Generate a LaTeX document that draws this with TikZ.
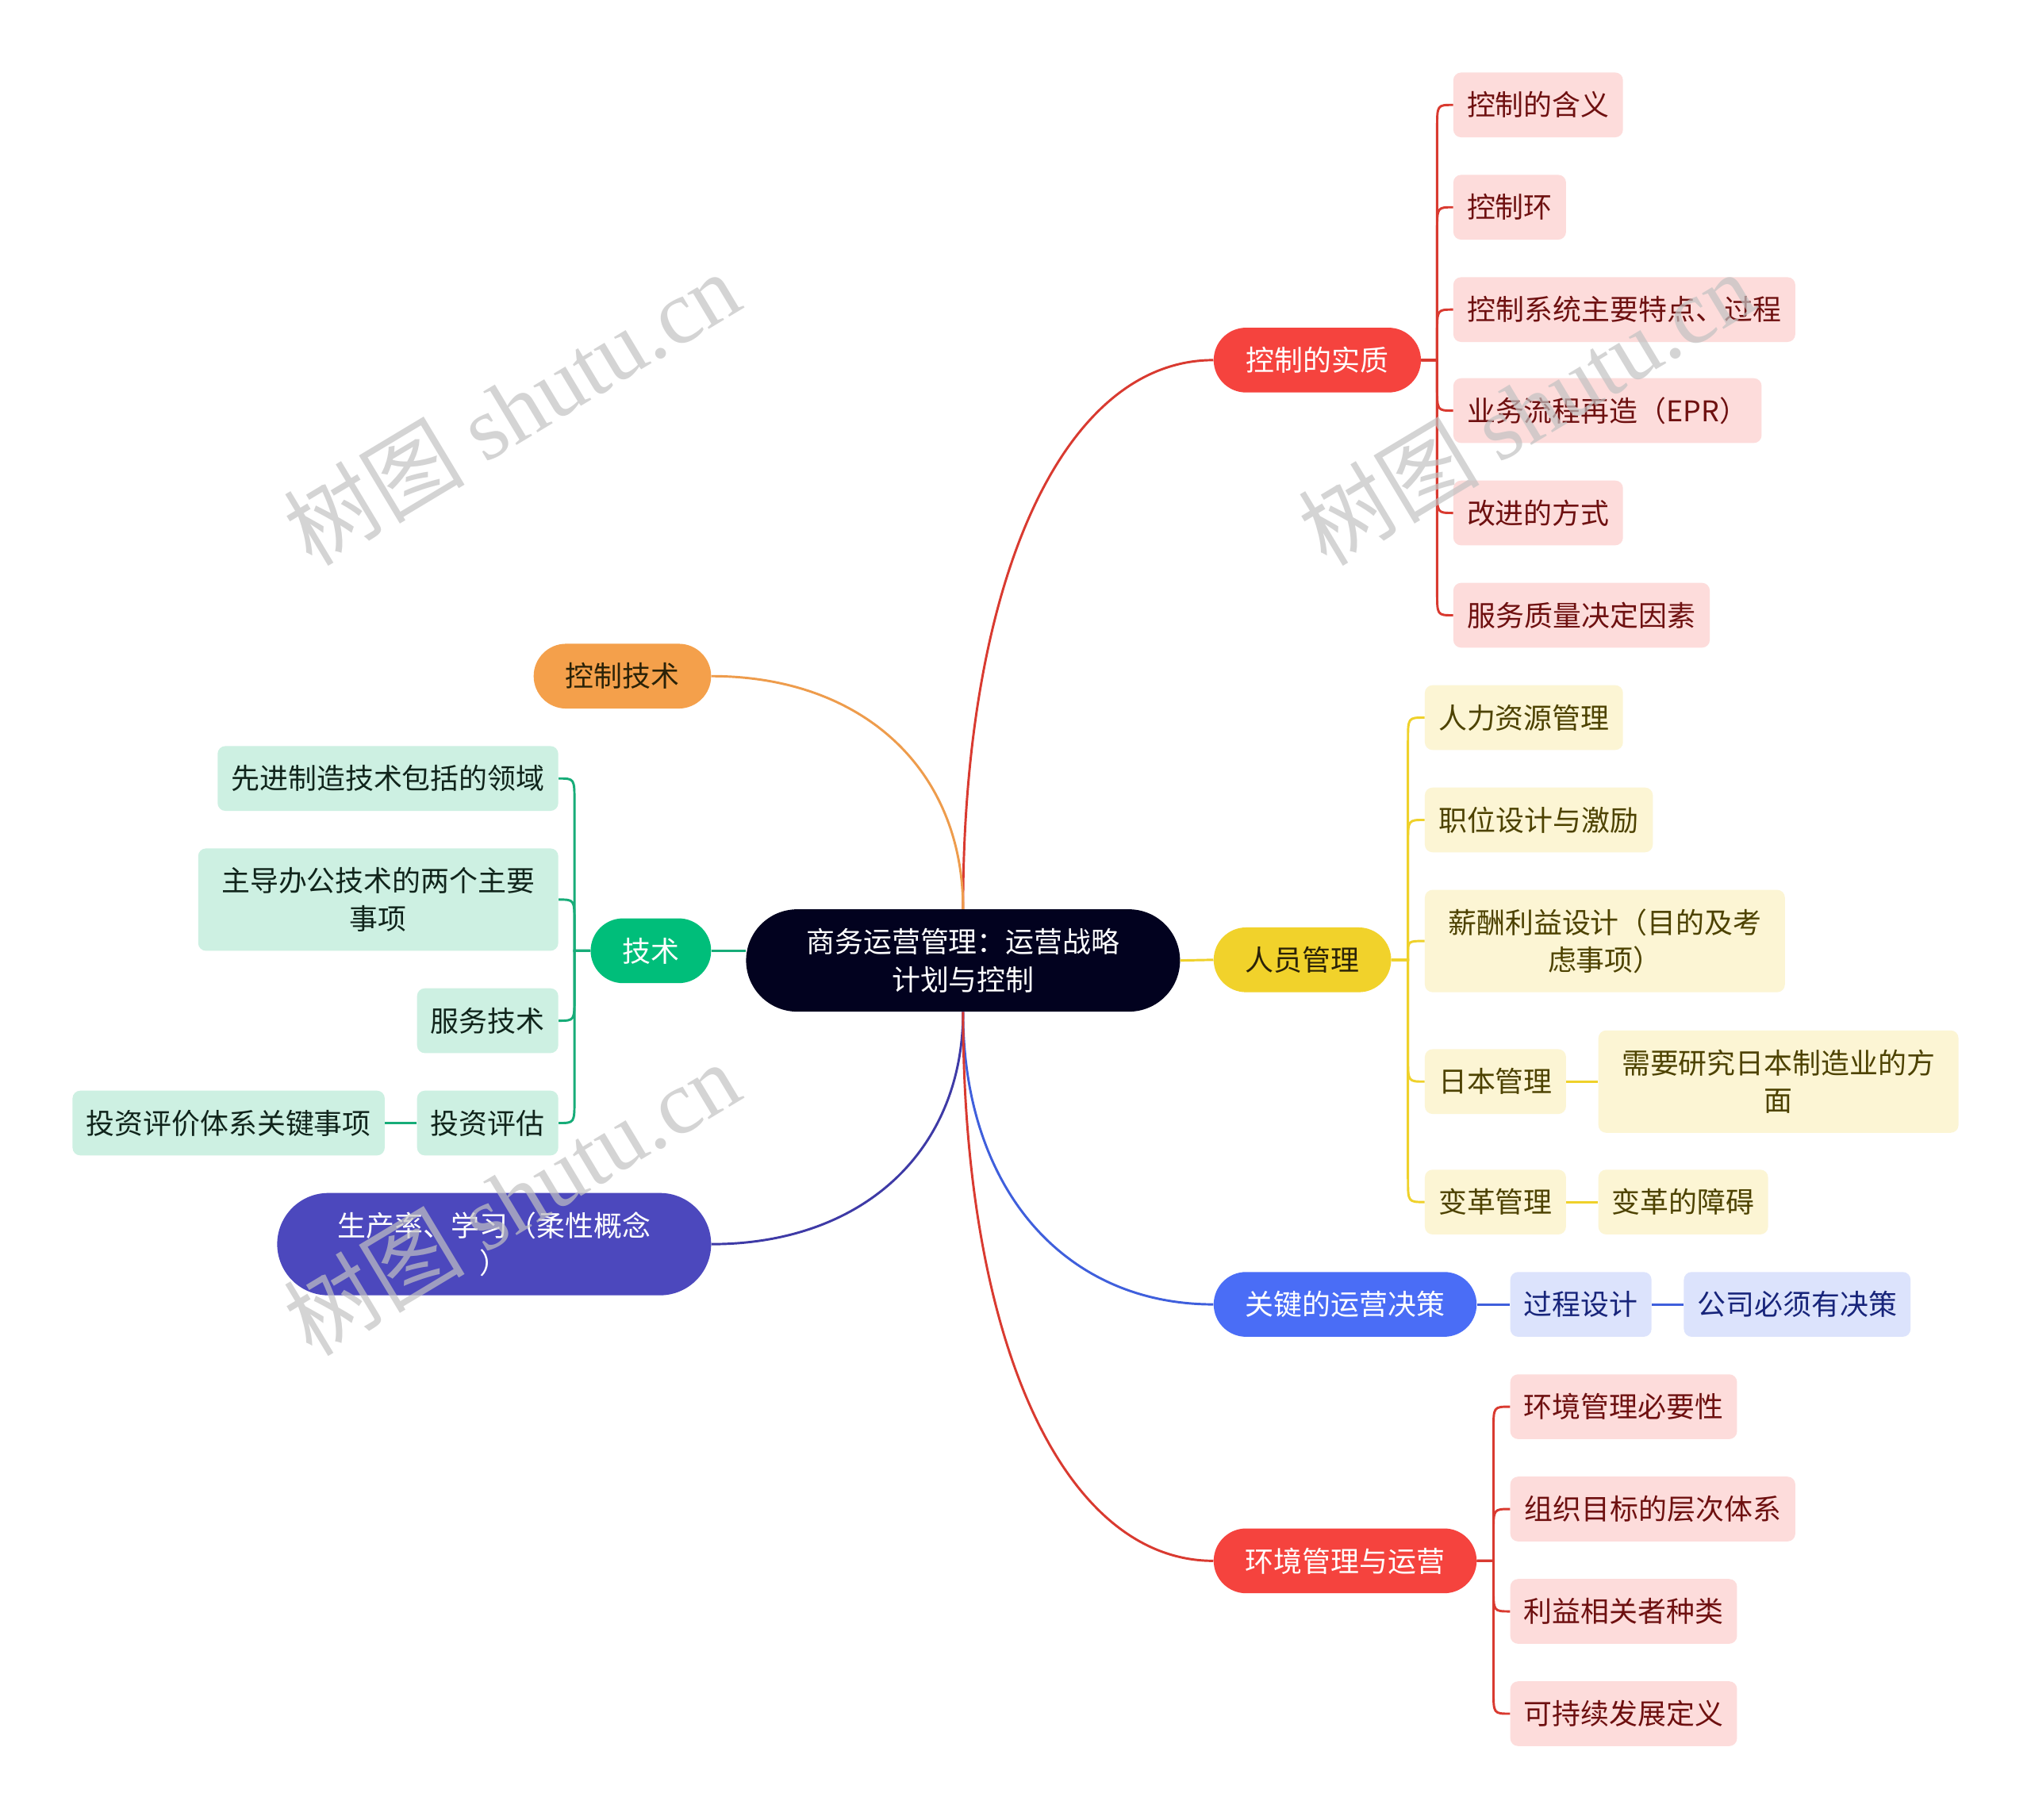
\documentclass[tikz,border=0pt]{standalone}
\usepackage{fontspec}
\setmainfont{Noto Sans CJK SC}
\newfontfamily\wmlatin{Liberation Serif}
\usetikzlibrary{calc}
\definecolor{cNavy}{HTML}{02021F}
\definecolor{cRed}{HTML}{F5433E}
\definecolor{cRedLine}{HTML}{D93A30}
\definecolor{cPink}{HTML}{FDDCDB}
\definecolor{cPinkTxt}{HTML}{6E1010}
\definecolor{cYel}{HTML}{F1D22B}
\definecolor{cYelLine}{HTML}{EFD12A}
\definecolor{cYelFill}{HTML}{FCF5D4}
\definecolor{cYelTxt}{HTML}{4D4200}
\definecolor{cBlue}{HTML}{4A6DF6}
\definecolor{cBlueLine}{HTML}{3F5FDC}
\definecolor{cBlueFill}{HTML}{DCE3FC}
\definecolor{cBlueTxt}{HTML}{17247A}
\definecolor{cOrange}{HTML}{F4A04B}
\definecolor{cOrangeLine}{HTML}{EE9C4C}
\definecolor{cGreen}{HTML}{00BE7A}
\definecolor{cGreenLine}{HTML}{17AC78}
\definecolor{cGreenFill}{HTML}{CDF0E2}
\definecolor{cGreenTxt}{HTML}{10241B}
\definecolor{cPurple}{HTML}{4C48BD}
\definecolor{cPurpleLine}{HTML}{3E3AA6}
\definecolor{cDark}{HTML}{2A2208}
\definecolor{cWM}{HTML}{C2C2C2}
\tikzset{
  txt/.style={inner sep=0pt, align=center, font=\fontsize{22}{29}\selectfont},
  pill/.style={txt, rounded corners=25pt, minimum height=50pt},
  bigpill/.style={txt, rounded corners=39.5pt, minimum height=79pt},
  leaf/.style={txt, rounded corners=6pt, minimum height=50pt},
  tall/.style={minimum height=79pt},
  pk/.style={leaf, fill=cPink, text=cPinkTxt},
  yl/.style={leaf, fill=cYelFill, text=cYelTxt},
  bl/.style={leaf, fill=cBlueFill, text=cBlueTxt},
  gr/.style={leaf, fill=cGreenFill, text=cGreenTxt},
  link/.style={line width=1.8pt},
  wm/.style={text=cWM, font=\fontsize{70}{70}\selectfont, rotate=31, inner sep=0pt, opacity=0.7}
}
\newcommand\trunk[3]{%
  \coordinate (K) at (#2 |- #3);
  \draw[link,#1] (#2) .. controls ($(#2)!0.6!(K)$) and ($(#3)!0.6!(K)$) .. (#3);}
\newcommand\kidR[4]{%
  \coordinate (m) at ($(#2.east)!0.5!(#3.west)$);
  \coordinate (b) at ($(m |- #3.west)+(0,#4)$);
  \draw[link,#1] (#2.east) -- (m |- #2.east) -- (b) .. controls (m |- #3.west) .. (#3.west);}
\newcommand\kidL[4]{%
  \coordinate (m) at ($(#2.west)!0.5!(#3.east)$);
  \coordinate (b) at ($(m |- #3.east)+(0,#4)$);
  \draw[link,#1] (#2.west) -- (m |- #2.west) -- (b) .. controls (m |- #3.east) .. (#3.east);}
\begin{document}
\begin{tikzpicture}[x=1pt,y=-1pt]
\useasboundingbox (0,0) rectangle (1568,1404.5);
\fill[white] (0,0) rectangle (1568,1404.5);

% central and main topics
\node[bigpill, fill=cNavy, text=white, minimum width=335pt] (C) at (743.5,741.5) {商务运营管理：运营战略\\计划与控制};
\node[pill, fill=cRed, text=white, minimum width=160pt] (M1) at (1017,278) {控制的实质};
\node[pill, fill=cYel, text=cDark, minimum width=137pt] (M2) at (1005.5,741) {人员管理};
\node[pill, fill=cBlue, text=white, minimum width=203pt] (M3) at (1038.5,1007) {关键的运营决策};
\node[pill, fill=cRed, text=white, minimum width=203pt] (M4) at (1038.5,1205) {环境管理与运营};
\node[pill, fill=cOrange, text=cDark, minimum width=137pt] (L1) at (480.5,522) {控制技术};
\node[pill, fill=cGreen, text=white, minimum width=93pt] (L2) at (502.5,734) {技术};
\node[bigpill, fill=cPurple, text=white, minimum width=335pt] (L3) at (381.5,960.5) {生产率、学习（柔性概念\\）};

% children of 控制的实质
\node[pk, minimum width=131pt] (c1) at (1187.5,81) {控制的含义};
\node[pk, minimum width=87pt] (c2) at (1165.5,160) {控制环};
\node[pk, minimum width=264pt] (c3) at (1254,239) {控制系统主要特点、过程};
\node[pk, minimum width=238pt] (c4) at (1241,317) {业务流程再造（EPR）};
\node[pk, minimum width=131pt] (c5) at (1187.5,396) {改进的方式};
\node[pk, minimum width=198pt] (c6) at (1221,475) {服务质量决定因素};

% children of 人员管理
\node[yl, minimum width=153pt] (y1) at (1176.5,554) {人力资源管理};
\node[yl, minimum width=176pt] (y2) at (1188,633) {职位设计与激励};
\node[yl, tall, minimum width=278pt] (y3) at (1239,726.5) {薪酬利益设计（目的及考\\虑事项）};
\node[yl, minimum width=109pt] (y4) at (1154.5,835) {日本管理};
\node[yl, tall, minimum width=278pt] (y4a) at (1373,835) {需要研究日本制造业的方\\面};
\node[yl, minimum width=109pt] (y5) at (1154.5,928) {变革管理};
\node[yl, minimum width=131pt] (y5a) at (1299.5,928) {变革的障碍};

% children of 关键的运营决策
\node[bl, minimum width=109pt] (b1) at (1220.5,1007) {过程设计};
\node[bl, minimum width=175pt] (b1a) at (1387.5,1007) {公司必须有决策};

% children of 环境管理与运营
\node[pk, minimum width=175pt] (e1) at (1253.5,1086) {环境管理必要性};
\node[pk, minimum width=220pt] (e2) at (1276,1165) {组织目标的层次体系};
\node[pk, minimum width=175pt] (e3) at (1253.5,1244) {利益相关者种类};
\node[pk, minimum width=175pt] (e4) at (1253.5,1323) {可持续发展定义};

% children of 技术
\node[gr, minimum width=263pt] (g1) at (299.5,601) {先进制造技术包括的领域};
\node[gr, tall, minimum width=278pt] (g2) at (292,694.5) {主导办公技术的两个主要\\事项};
\node[gr, minimum width=109pt] (g3) at (376.5,788) {服务技术};
\node[gr, minimum width=109pt] (g4) at (376.5,867) {投资评估};
\node[gr, minimum width=241pt] (g4a) at (176.5,867) {投资评价体系关键事项};

% main connectors
\trunk{cRedLine}{C.north}{M1.west}
\trunk{cOrangeLine}{C.north}{L1.east}
\trunk{cPurpleLine}{C.south}{L3.east}
\trunk{cBlueLine}{C.south}{M3.west}
\trunk{cRedLine}{C.south}{M4.west}
\draw[link,cGreenLine] (L2.east) -- (L2.east -| C.west);
\draw[link,cYelLine] (C.east) -- (M2.west);

% child connectors
\kidR{cRedLine}{M1}{c1}{18}
\kidR{cRedLine}{M1}{c2}{18}
\kidR{cRedLine}{M1}{c3}{18}
\kidR{cRedLine}{M1}{c4}{-18}
\kidR{cRedLine}{M1}{c5}{-18}
\kidR{cRedLine}{M1}{c6}{-18}

\kidR{cYelLine}{M2}{y1}{18}
\kidR{cYelLine}{M2}{y2}{18}
\kidR{cYelLine}{M2}{y3}{10}
\kidR{cYelLine}{M2}{y4}{-18}
\kidR{cYelLine}{M2}{y5}{-18}
\draw[link,cYelLine] (y4.east) -- (y4a.west);
\draw[link,cYelLine] (y5.east) -- (y5a.west);

\draw[link,cBlueLine] (M3.east) -- (b1.west);
\draw[link,cBlueLine] (b1.east) -- (b1a.west);

\kidR{cRedLine}{M4}{e1}{18}
\kidR{cRedLine}{M4}{e2}{18}
\kidR{cRedLine}{M4}{e3}{-18}
\kidR{cRedLine}{M4}{e4}{-18}

\kidL{cGreenLine}{L2}{g1}{18}
\kidL{cGreenLine}{L2}{g2}{18}
\kidL{cGreenLine}{L2}{g3}{-18}
\kidL{cGreenLine}{L2}{g4}{-18}
\draw[link,cGreenLine] (g4.west) -- (g4a.east);

% watermarks
\node[wm] (w1) at (395,315) {树图 {\wmlatin shutu.cn}};
\node[wm] (w2) at (1178,315) {树图 {\wmlatin shutu.cn}};
\node[wm] (w3) at (395,925) {树图 {\wmlatin shutu.cn}};
\end{tikzpicture}
\end{document}
